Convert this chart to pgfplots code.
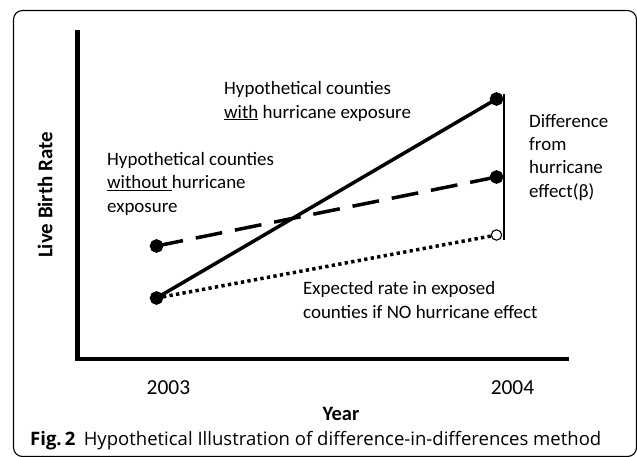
\documentclass[border=0pt]{standalone}
\usepackage{fontspec}
\setmainfont{Carlito}
\newfontfamily\capfont{Open Sans}
\usepackage{pgfplots}
\pgfplotsset{compat=1.18}
\begin{document}
\begin{tikzpicture}
\path[use as bounding box] (0bp,0bp) rectangle (637bp,-457bp);
\draw[line width=1.1bp, rounded corners=9bp] (13.5bp,-10.5bp) rectangle (636.5bp,-456.5bp);
\begin{axis}[
  at={(77.5bp,-359bp)}, anchor=south west,
  scale only axis, width=489.25bp, height=326.75bp,
  xmin=2002.7676, xmax=2004.2066, ymin=0, ymax=32.675,
  axis x line=bottom, axis y line=left,
  axis line style={line width=4.5bp, -, line cap=rect},
  xtick={2003.035,2004.047}, xticklabels={2003,2004},
  ytick=\empty, major tick length=0pt,
  xticklabel style={anchor=base, yshift=-35bp, font=\fontsize{21.5}{24}\selectfont},
  xlabel={Year}, ylabel={Live Birth Rate},
  xlabel style={at={(rel axis cs:0.5386,-0.1867)}, anchor=base, font=\fontsize{20.5}{24}\selectfont\bfseries},
  ylabel style={at={(rel axis cs:-0.0664,0.502)}, anchor=center, rotate=0, font=\fontsize{21}{24}\selectfont\bfseries},
  clip=false,
]
% with hurricane exposure (solid)
\addplot[line width=3.5bp, mark=*, mark size=5bp] coordinates {(2003,6.1) (2004,26.0)};
% without hurricane exposure (dashed)
\addplot[line width=3.5bp, dash pattern=on 27bp off 13bp, mark=*, mark size=5bp, mark options={solid}] coordinates {(2003,11.3) (2004,18.2)};
% expected if no effect (dotted)
\addplot[line width=3.5bp, dash pattern=on 3.3bp off 3.3bp] coordinates {(2003,6.1) (2004,12.4)};
\addplot[only marks, mark=*, mark size=5.2bp, mark options={line width=1.1bp, draw=black, fill=white}] coordinates {(2004,12.4)};
% difference bracket line
\addplot[line width=1.2bp] coordinates {(2004.022,26.5) (2004.022,11.9)};
\end{axis}
\begin{scope}[every node/.style={anchor=base west, align=left, inner sep=0pt, font=\fontsize{19}{23.3}\selectfont}]
\node at (224bp,-118bp) {Hypothetical counties\\\underline{with} hurricane exposure};
\node at (107bp,-212bp) {Hypothetical counties\\\underline{without\ }hurricane\\exposure};
\node at (529bp,-197bp) {Difference\\from\\hurricane\\effect(β)};
\node at (303bp,-318bp) {Expected rate in exposed\\counties if NO hurricane effect};
\end{scope}
\node[anchor=base west, inner sep=0pt, font=\capfont\fontsize{18.6}{22}\selectfont] at (30bp,-445bp) {\textbf{Fig.\,2}\hspace{0.45em}Hypothetical Illustration of difference-in-differences method};
\end{tikzpicture}
\end{document}
